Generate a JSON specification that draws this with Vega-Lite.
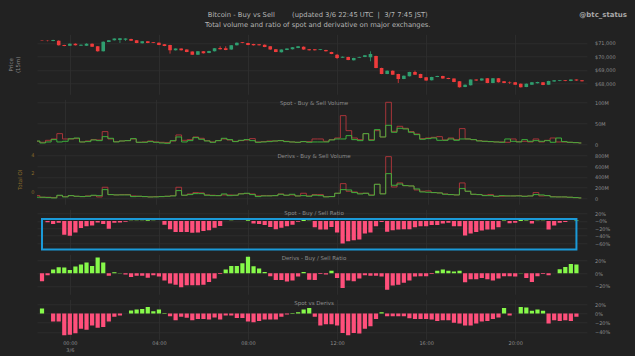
{
  "$schema": "https://vega.github.io/schema/vega-lite/v6.json",
  "background": "#222222",
  "padding": {"left": 8, "top": 10.3, "right": 8, "bottom": 4},
  "title": {
    "text": "Bitcoin - Buy vs Sell\u00a0\u00a0\u00a0\u00a0\u00a0\u00a0\u00a0\u00a0(updated 3/6 22:45 UTC\u00a0\u00a0|\u00a0\u00a03/7 7:45 JST)",
    "subtitle": "Total volume and ratio of spot and derivative on major exchanges.",
    "anchor": "middle",
    "fontSize": 6.8,
    "subtitleFontSize": 6.8,
    "color": "#b5b5b5",
    "subtitleColor": "#b5b5b5",
    "fontWeight": "normal",
    "subtitlePadding": 2.5,
    "offset": -18
  },
  "data": {"values": [
    {"t":"2024-03-05T22:45:00Z","o":71190,"h":71210,"l":71150,"c":71160,"sb":8.3,"ss":7.6,"db":25,"ds":55,"sr":0,"dr":-12.6,"sd":11},
    {"t":"2024-03-05T23:00:00Z","o":71175,"h":71200,"l":71120,"c":71140,"sb":3.6,"ss":5.2,"db":25,"ds":25,"sr":-3.6,"dr":-3,"sd":0},
    {"t":"2024-03-05T23:15:00Z","o":71150,"h":71240,"l":71130,"c":71225,"sb":6,"ss":9.9,"db":18,"ds":25,"sr":-8,"dr":5.8,"sd":-17},
    {"t":"2024-03-05T23:30:00Z","o":71175,"h":71200,"l":70810,"c":70830,"sb":11.5,"ss":13.1,"db":12,"ds":18,"sr":-5,"dr":9.5,"sd":-17},
    {"t":"2024-03-05T23:45:00Z","o":70855,"h":70870,"l":70760,"c":70780,"sb":6,"ss":25.7,"db":62,"ds":55,"sr":-37,"dr":9,"sd":-47},
    {"t":"2024-03-06T00:00:00Z","o":70805,"h":70970,"l":70790,"c":70953,"sb":7.6,"ss":13.1,"db":31,"ds":37,"sr":-40,"dr":5,"sd":-46},
    {"t":"2024-03-06T00:15:00Z","o":70953,"h":70975,"l":70810,"c":70830,"sb":13.5,"ss":13.1,"db":55,"ds":55,"sr":-31,"dr":10.5,"sd":-43},
    {"t":"2024-03-06T00:30:00Z","o":70805,"h":70900,"l":70790,"c":70879,"sb":15.4,"ss":13.9,"db":43,"ds":43,"sr":-19,"dr":13.7,"sd":-33},
    {"t":"2024-03-06T00:45:00Z","o":70805,"h":70980,"l":70780,"c":70953,"sb":6,"ss":6,"db":37,"ds":37,"sr":-14,"dr":16.8,"sd":-35},
    {"t":"2024-03-06T01:00:00Z","o":70953,"h":70970,"l":70710,"c":70731,"sb":6.8,"ss":8.3,"db":43,"ds":49,"sr":-12,"dr":11.5,"sd":-26},
    {"t":"2024-03-06T01:15:00Z","o":70756,"h":70770,"l":70360,"c":70385,"sb":10.7,"ss":11.5,"db":62,"ds":55,"sr":-4,"dr":25,"sd":-31},
    {"t":"2024-03-06T01:30:00Z","o":70385,"h":71120,"l":70370,"c":71101,"sb":9.1,"ss":10.7,"db":55,"ds":31,"sr":-8,"dr":17,"sd":-29},
    {"t":"2024-03-06T01:45:00Z","o":71077,"h":71220,"l":71060,"c":71200,"sb":18.6,"ss":30.5,"db":166,"ds":210,"sr":-21,"dr":-3.7,"sd":-17},
    {"t":"2024-03-06T02:00:00Z","o":71200,"h":71340,"l":71180,"c":71324,"sb":14.7,"ss":13.1,"db":74,"ds":74,"sr":-4.5,"dr":1.5,"sd":-7},
    {"t":"2024-03-06T02:15:00Z","o":71225,"h":71373,"l":71003,"c":71348,"sb":6,"ss":6.8,"db":68,"ds":68,"sr":-4,"dr":0.5,"sd":-4},
    {"t":"2024-03-06T02:30:00Z","o":71249,"h":71348,"l":71151,"c":71324,"sb":8.3,"ss":8.3,"db":68,"ds":74,"sr":-2,"dr":-2,"sd":0.3},
    {"t":"2024-03-06T02:45:00Z","o":71299,"h":71320,"l":71160,"c":71175,"sb":9.1,"ss":9.1,"db":68,"ds":74,"sr":0.5,"dr":-6,"sd":7},
    {"t":"2024-03-06T03:00:00Z","o":71200,"h":71215,"l":70985,"c":71003,"sb":13.9,"ss":13.1,"db":37,"ds":49,"sr":0.5,"dr":-3.7,"sd":9},
    {"t":"2024-03-06T03:15:00Z","o":70978,"h":71140,"l":70960,"c":71126,"sb":5.2,"ss":5.2,"db":43,"ds":43,"sr":0.5,"dr":-3.7,"sd":10},
    {"t":"2024-03-06T03:30:00Z","o":71126,"h":71140,"l":70985,"c":71003,"sb":5.2,"ss":6,"db":37,"ds":37,"sr":2,"dr":-7,"sd":14.5},
    {"t":"2024-03-06T03:45:00Z","o":71052,"h":71070,"l":70990,"c":71003,"sb":6.8,"ss":8.3,"db":31,"ds":31,"sr":0.5,"dr":-3,"sd":5},
    {"t":"2024-03-06T04:00:00Z","o":71027,"h":71045,"l":70840,"c":70854,"sb":5.2,"ss":6,"db":31,"ds":37,"sr":0.3,"dr":-5,"sd":9},
    {"t":"2024-03-06T04:15:00Z","o":70904,"h":70920,"l":70765,"c":70780,"sb":3.6,"ss":5.2,"db":37,"ds":37,"sr":-10,"dr":-11.5,"sd":1.5},
    {"t":"2024-03-06T04:30:00Z","o":70854,"h":70870,"l":70212,"c":70459,"sb":2.8,"ss":4.4,"db":43,"ds":43,"sr":-22,"dr":-16,"sd":-6},
    {"t":"2024-03-06T04:45:00Z","o":70459,"h":70600,"l":70440,"c":70583,"sb":9.1,"ss":8.3,"db":49,"ds":55,"sr":-30,"dr":-18,"sd":-14.5},
    {"t":"2024-03-06T05:00:00Z","o":70583,"h":70600,"l":70440,"c":70459,"sb":17.8,"ss":22.6,"db":148,"ds":210,"sr":-30,"dr":-22,"sd":-7},
    {"t":"2024-03-06T05:15:00Z","o":70509,"h":70525,"l":70320,"c":70336,"sb":6,"ss":9.9,"db":62,"ds":62,"sr":-30,"dr":-19,"sd":-9},
    {"t":"2024-03-06T05:30:00Z","o":70361,"h":70380,"l":70120,"c":70138,"sb":9.1,"ss":11.5,"db":74,"ds":86,"sr":-32,"dr":-19,"sd":-14.5},
    {"t":"2024-03-06T05:45:00Z","o":70138,"h":70400,"l":70120,"c":70385,"sb":16.2,"ss":17.8,"db":92,"ds":111,"sr":-31,"dr":-19,"sd":-11.6},
    {"t":"2024-03-06T06:00:00Z","o":70385,"h":70400,"l":70220,"c":70237,"sb":12.3,"ss":14.7,"db":92,"ds":105,"sr":-27,"dr":-18,"sd":-11.6},
    {"t":"2024-03-06T06:15:00Z","o":70262,"h":70425,"l":70245,"c":70410,"sb":8.3,"ss":9.1,"db":62,"ds":68,"sr":-25,"dr":-13.7,"sd":-13},
    {"t":"2024-03-06T06:30:00Z","o":70385,"h":70625,"l":70370,"c":70608,"sb":5.2,"ss":6,"db":55,"ds":62,"sr":-18,"dr":-8.4,"sd":-8.7},
    {"t":"2024-03-06T06:45:00Z","o":70632,"h":70756,"l":70515,"c":70534,"sb":9.1,"ss":9.1,"db":55,"ds":55,"sr":-13.5,"dr":-1,"sd":-13},
    {"t":"2024-03-06T07:00:00Z","o":70608,"h":70756,"l":70465,"c":70484,"sb":14.7,"ss":13.1,"db":86,"ds":68,"sr":0.3,"dr":5.8,"sd":-4},
    {"t":"2024-03-06T07:15:00Z","o":70509,"h":70845,"l":70490,"c":70830,"sb":11.5,"ss":10.7,"db":55,"ds":68,"sr":0.5,"dr":11.5,"sd":-4},
    {"t":"2024-03-06T07:30:00Z","o":70830,"h":71045,"l":70815,"c":71027,"sb":6.8,"ss":7.6,"db":62,"ds":62,"sr":0.3,"dr":11.5,"sd":-9.4},
    {"t":"2024-03-06T07:45:00Z","o":71052,"h":71070,"l":70985,"c":71003,"sb":9.9,"ss":9.1,"db":86,"ds":92,"sr":0.3,"dr":15.8,"sd":-9.4},
    {"t":"2024-03-06T08:00:00Z","o":71003,"h":71020,"l":70835,"c":70854,"sb":11.5,"ss":10.7,"db":99,"ds":92,"sr":2,"dr":26,"sd":-17},
    {"t":"2024-03-06T08:15:00Z","o":70929,"h":70945,"l":70810,"c":70830,"sb":9.1,"ss":13.9,"db":74,"ds":86,"sr":-7,"dr":11,"sd":-19},
    {"t":"2024-03-06T08:30:00Z","o":70904,"h":70920,"l":70810,"c":70830,"sb":5.2,"ss":6,"db":37,"ds":49,"sr":-8,"dr":7.4,"sd":-16},
    {"t":"2024-03-06T08:45:00Z","o":70879,"h":70895,"l":70690,"c":70706,"sb":6,"ss":6.8,"db":49,"ds":55,"sr":-11,"dr":2,"sd":-13},
    {"t":"2024-03-06T09:00:00Z","o":70756,"h":70770,"l":70490,"c":70509,"sb":6.8,"ss":8.3,"db":49,"ds":55,"sr":-16,"dr":-4.7,"sd":-13},
    {"t":"2024-03-06T09:15:00Z","o":70534,"h":70550,"l":70320,"c":70336,"sb":8.3,"ss":8.3,"db":55,"ds":55,"sr":-22,"dr":-10.5,"sd":-13},
    {"t":"2024-03-06T09:30:00Z","o":70311,"h":70525,"l":70295,"c":70509,"sb":9.1,"ss":9.1,"db":80,"ds":86,"sr":-18,"dr":-10.5,"sd":-7},
    {"t":"2024-03-06T09:45:00Z","o":70484,"h":70600,"l":70470,"c":70583,"sb":6.8,"ss":7.6,"db":62,"ds":62,"sr":-14,"dr":-13,"sd":-2},
    {"t":"2024-03-06T10:00:00Z","o":70534,"h":70700,"l":70520,"c":70682,"sb":6,"ss":6,"db":80,"ds":68,"sr":-10,"dr":-11.5,"sd":1.5},
    {"t":"2024-03-06T10:15:00Z","o":70632,"h":70775,"l":70615,"c":70756,"sb":5.2,"ss":5.2,"db":49,"ds":49,"sr":-2,"dr":-5,"sd":3},
    {"t":"2024-03-06T10:30:00Z","o":70731,"h":70750,"l":70490,"c":70509,"sb":6.8,"ss":6.8,"db":55,"ds":99,"sr":2.5,"dr":2,"sd":9},
    {"t":"2024-03-06T10:45:00Z","o":70534,"h":70550,"l":70440,"c":70459,"sb":5.2,"ss":6.8,"db":43,"ds":49,"sr":0.5,"dr":-10,"sd":12},
    {"t":"2024-03-06T11:00:00Z","o":70534,"h":70550,"l":70440,"c":70459,"sb":6,"ss":13.1,"db":62,"ds":74,"sr":-17,"dr":-10.5,"sd":-7},
    {"t":"2024-03-06T11:15:00Z","o":70484,"h":70550,"l":70470,"c":70534,"sb":6,"ss":13.1,"db":55,"ds":74,"sr":-23,"dr":-1,"sd":-26},
    {"t":"2024-03-06T11:30:00Z","o":70484,"h":70500,"l":70370,"c":70385,"sb":6,"ss":7.6,"db":31,"ds":37,"sr":-23,"dr":-2,"sd":-23},
    {"t":"2024-03-06T11:45:00Z","o":70336,"h":70350,"l":70170,"c":70188,"sb":10.7,"ss":11.5,"db":37,"ds":37,"sr":-16,"dr":4,"sd":-23},
    {"t":"2024-03-06T12:00:00Z","o":70138,"h":70188,"l":69817,"c":69891,"sb":13.1,"ss":15.4,"db":99,"ds":99,"sr":-31,"dr":-7.4,"sd":-26},
    {"t":"2024-03-06T12:15:00Z","o":69916,"h":70010,"l":69900,"c":69990,"sb":13.1,"ss":68.4,"db":166,"ds":277,"sr":-61,"dr":-23,"sd":-42},
    {"t":"2024-03-06T12:30:00Z","o":69966,"h":69985,"l":69725,"c":69743,"sb":21,"ss":32.8,"db":160,"ds":136,"sr":-55,"dr":-11.5,"sd":-47},
    {"t":"2024-03-06T12:45:00Z","o":69719,"h":69910,"l":69700,"c":69891,"sb":11.5,"ss":15.4,"db":111,"ds":123,"sr":-52,"dr":-12.6,"sd":-42},
    {"t":"2024-03-06T13:00:00Z","o":69916,"h":69985,"l":69900,"c":69966,"sb":9.1,"ss":11.5,"db":86,"ds":99,"sr":-50,"dr":-8.4,"sd":-43.5},
    {"t":"2024-03-06T13:15:00Z","o":69966,"h":70105,"l":69950,"c":70089,"sb":25.7,"ss":25.7,"db":99,"ds":99,"sr":-34,"dr":-3,"sd":-33},
    {"t":"2024-03-06T13:30:00Z","o":69941,"h":70385,"l":69645,"c":70188,"sb":9.9,"ss":11.5,"db":62,"ds":68,"sr":-31,"dr":-4,"sd":-27.5},
    {"t":"2024-03-06T13:45:00Z","o":70040,"h":70060,"l":69130,"c":69151,"sb":35.2,"ss":32.8,"db":265,"ds":265,"sr":-14,"dr":-4,"sd":-11.6},
    {"t":"2024-03-06T14:00:00Z","o":69151,"h":69170,"l":68690,"c":68706,"sb":17.8,"ss":17.8,"db":86,"ds":92,"sr":-3,"dr":-5,"sd":3},
    {"t":"2024-03-06T14:15:00Z","o":68706,"h":68970,"l":68690,"c":68953,"sb":45.5,"ss":100,"db":462,"ds":777,"sr":-29,"dr":-26,"sd":-6},
    {"t":"2024-03-06T14:30:00Z","o":68953,"h":68970,"l":68640,"c":68657,"sb":28.9,"ss":31.2,"db":247,"ds":215,"sr":-25,"dr":-19.4,"sd":-6},
    {"t":"2024-03-06T14:45:00Z","o":68706,"h":68720,"l":68040,"c":68336,"sb":38.4,"ss":43.1,"db":270,"ds":290,"sr":-23,"dr":-18,"sd":-6},
    {"t":"2024-03-06T15:00:00Z","o":68336,"h":68600,"l":68320,"c":68583,"sb":36.8,"ss":38.4,"db":240,"ds":240,"sr":-22,"dr":-15,"sd":-6},
    {"t":"2024-03-06T15:15:00Z","o":68534,"h":68870,"l":68520,"c":68855,"sb":28.9,"ss":30.5,"db":234,"ds":234,"sr":-22,"dr":-11.5,"sd":-10},
    {"t":"2024-03-06T15:30:00Z","o":68855,"h":68953,"l":68640,"c":68657,"sb":23.4,"ss":24.9,"db":179,"ds":160,"sr":-17,"dr":-5,"sd":-11.6},
    {"t":"2024-03-06T15:45:00Z","o":68706,"h":68720,"l":68390,"c":68410,"sb":12.3,"ss":13.9,"db":123,"ds":136,"sr":-14,"dr":-4.7,"sd":-11.6},
    {"t":"2024-03-06T16:00:00Z","o":68460,"h":68475,"l":68195,"c":68213,"sb":13.9,"ss":15.4,"db":117,"ds":142,"sr":-14,"dr":-4.7,"sd":-11.6},
    {"t":"2024-03-06T16:15:00Z","o":68237,"h":68500,"l":68220,"c":68484,"sb":15.4,"ss":17,"db":111,"ds":111,"sr":-11,"dr":-1,"sd":-13},
    {"t":"2024-03-06T16:30:00Z","o":68484,"h":68575,"l":68470,"c":68558,"sb":9.9,"ss":18.6,"db":105,"ds":105,"sr":-11,"dr":4,"sd":-16},
    {"t":"2024-03-06T16:45:00Z","o":68558,"h":68575,"l":68345,"c":68361,"sb":9.9,"ss":10.7,"db":80,"ds":86,"sr":-7,"dr":5.8,"sd":-14.5},
    {"t":"2024-03-06T17:00:00Z","o":68410,"h":68425,"l":68320,"c":68336,"sb":13.1,"ss":15.4,"db":74,"ds":74,"sr":-5,"dr":4,"sd":-14.5},
    {"t":"2024-03-06T17:15:00Z","o":68361,"h":68380,"l":68095,"c":68114,"sb":9.9,"ss":11.5,"db":68,"ds":68,"sr":-14,"dr":3,"sd":-20},
    {"t":"2024-03-06T17:30:00Z","o":68163,"h":68180,"l":67700,"c":67719,"sb":13.1,"ss":37.6,"db":185,"ds":290,"sr":-14,"dr":4,"sd":-21.8},
    {"t":"2024-03-06T17:45:00Z","o":67744,"h":67935,"l":67725,"c":67916,"sb":13.1,"ss":13.1,"db":136,"ds":136,"sr":-39,"dr":-14,"sd":-26},
    {"t":"2024-03-06T18:00:00Z","o":67867,"h":68305,"l":67850,"c":68287,"sb":11.5,"ss":11.5,"db":80,"ds":80,"sr":-34,"dr":-9.5,"sd":-26},
    {"t":"2024-03-06T18:15:00Z","o":68287,"h":68305,"l":68195,"c":68213,"sb":8.3,"ss":9.1,"db":74,"ds":74,"sr":-30,"dr":-9.5,"sd":-21.8},
    {"t":"2024-03-06T18:30:00Z","o":68213,"h":68380,"l":68195,"c":68361,"sb":7.6,"ss":7.6,"db":55,"ds":62,"sr":-26,"dr":-7.4,"sd":-17},
    {"t":"2024-03-06T18:45:00Z","o":68386,"h":68405,"l":68020,"c":68040,"sb":6.8,"ss":6.8,"db":55,"ds":74,"sr":-23,"dr":-9.5,"sd":-16},
    {"t":"2024-03-06T19:00:00Z","o":68040,"h":68405,"l":68020,"c":68386,"sb":6,"ss":6,"db":43,"ds":43,"sr":-23,"dr":-11.5,"sd":-11.6},
    {"t":"2024-03-06T19:15:00Z","o":68386,"h":68405,"l":68070,"c":68089,"sb":5.2,"ss":6,"db":55,"ds":43,"sr":-17,"dr":-8.4,"sd":-8.7},
    {"t":"2024-03-06T19:30:00Z","o":68163,"h":68180,"l":68020,"c":68040,"sb":13.1,"ss":5.2,"db":49,"ds":49,"sr":1.5,"dr":-4.7,"sd":12},
    {"t":"2024-03-06T19:45:00Z","o":68114,"h":68150,"l":67966,"c":68065,"sb":7.6,"ss":13.1,"db":49,"ds":49,"sr":-6,"dr":-4.7,"sd":-4},
    {"t":"2024-03-06T20:00:00Z","o":68089,"h":68105,"l":67900,"c":67916,"sb":6,"ss":6.8,"db":49,"ds":55,"sr":-5,"dr":-5,"sd":0},
    {"t":"2024-03-06T20:15:00Z","o":67990,"h":68005,"l":67700,"c":67719,"sb":11.5,"ss":7.6,"db":43,"ds":43,"sr":6,"dr":0.5,"sd":14.5},
    {"t":"2024-03-06T20:30:00Z","o":67744,"h":68005,"l":67725,"c":67990,"sb":7.6,"ss":6,"db":49,"ds":49,"sr":1,"dr":-7.4,"sd":13},
    {"t":"2024-03-06T20:45:00Z","o":67916,"h":68105,"l":67900,"c":68089,"sb":9.1,"ss":13.1,"db":74,"ds":111,"sr":-7,"dr":-13.7,"sd":6},
    {"t":"2024-03-06T21:00:00Z","o":68015,"h":68130,"l":68000,"c":68114,"sb":7.6,"ss":6,"db":68,"ds":49,"sr":0.5,"dr":-4.7,"sd":9},
    {"t":"2024-03-06T21:15:00Z","o":68089,"h":68105,"l":67875,"c":67892,"sb":9.1,"ss":9.9,"db":55,"ds":55,"sr":0.5,"dr":-1,"sd":6},
    {"t":"2024-03-06T21:30:00Z","o":67916,"h":68205,"l":67900,"c":68188,"sb":5.2,"ss":15.4,"db":31,"ds":37,"sr":-23,"dr":-3,"sd":-21.8},
    {"t":"2024-03-06T21:45:00Z","o":68139,"h":68255,"l":68120,"c":68237,"sb":15.4,"ss":6,"db":31,"ds":31,"sr":-12,"dr":0,"sd":-14.5},
    {"t":"2024-03-06T22:00:00Z","o":68188,"h":68255,"l":68170,"c":68237,"sb":6.8,"ss":6,"db":31,"ds":31,"sr":-5,"dr":6.3,"sd":-16},
    {"t":"2024-03-06T22:15:00Z","o":68237,"h":68255,"l":68170,"c":68188,"sb":5.2,"ss":5.2,"db":25,"ds":25,"sr":-3,"dr":10,"sd":-14.5},
    {"t":"2024-03-06T22:30:00Z","o":68188,"h":68305,"l":68170,"c":68287,"sb":4.4,"ss":4.4,"db":18,"ds":18,"sr":0,"dr":14.7,"sd":-16},
    {"t":"2024-03-06T22:45:00Z","o":68287,"h":68305,"l":68195,"c":68213,"sb":3.6,"ss":3.6,"db":12,"ds":12,"sr":1.5,"dr":13.7,"sd":-7},
    {"t":"2024-03-06T23:00:00Z","o":68237,"h":68255,"l":68145,"c":68163}
  ]},
  "vconcat": [
    {
      "width": 550, "height": 60,
      "title": {"text": "@btc_status", "anchor": "end", "frame": "group", "dx": 40, "offset": 12.7, "fontSize": 7, "fontWeight": "bold", "color": "#a8a8a8", "baseline": "middle"},
      "encoding": {"x": {"field": "t", "type": "temporal", "scale": {"type": "utc", "domain": [{"year":2024,"month":3,"date":5,"hours":22,"minutes":45,"utc":true},{"year":2024,"month":3,"date":6,"hours":23,"minutes":0,"utc":true}]}, "axis": {"values": [{"year":2024,"month":3,"date":6,"hours":0,"utc":true},{"year":2024,"month":3,"date":6,"hours":4,"utc":true},{"year":2024,"month":3,"date":6,"hours":8,"utc":true},{"year":2024,"month":3,"date":6,"hours":12,"utc":true},{"year":2024,"month":3,"date":6,"hours":16,"utc":true},{"year":2024,"month":3,"date":6,"hours":20,"utc":true}], "labels": false, "title": null, "grid": true}}},
      "layer": [
        {"mark": {"type": "rule", "clip": true, "strokeWidth": 0.8},
         "encoding": {
           "y": {"field": "l", "type": "quantitative", "scale": {"domain": [67200, 71644], "nice": false, "zero": false}, "axis": {"orient": "right", "values": [68000, 69000, 70000, 71000], "format": "$,d", "grid": true, "title": null, "labelPadding": 7.5, "labelOverlap": false}},
           "y2": {"field": "h"},
           "color": {"condition": {"test": "datum.c >= datum.o", "value": "#2f9e6f"}, "value": "#ee3b3b"}}},
        {"mark": {"type": "bar", "clip": true, "width": 3.6},
         "encoding": {
           "y": {"field": "o", "type": "quantitative", "axis": {"orient": "left", "labels": false, "grid": false, "title": ["Price", "(15m)"], "titlePadding": 16}},
           "y2": {"field": "c"},
           "color": {"condition": {"test": "datum.c >= datum.o", "value": "#2f9e6f"}, "value": "#ee3b3b"}}}
      ],
      "resolve": {"axis": {"y": "independent"}}
    },
    {
      "width": 550, "height": 50,
      "title": {"text": "Spot - Buy & Sell Volume", "offset": -9, "baseline": "middle", "dx": 2},
      "encoding": {"x": {"field": "t", "type": "temporal", "scale": {"type": "utc", "domain": [{"year":2024,"month":3,"date":5,"hours":22,"minutes":45,"utc":true},{"year":2024,"month":3,"date":6,"hours":23,"minutes":0,"utc":true}]}, "axis": {"values": [{"year":2024,"month":3,"date":6,"hours":0,"utc":true},{"year":2024,"month":3,"date":6,"hours":4,"utc":true},{"year":2024,"month":3,"date":6,"hours":8,"utc":true},{"year":2024,"month":3,"date":6,"hours":12,"utc":true},{"year":2024,"month":3,"date":6,"hours":16,"utc":true},{"year":2024,"month":3,"date":6,"hours":20,"utc":true}], "labels": false, "title": null, "grid": true}}},
      "layer": [
        {"mark": {"type": "line", "interpolate": "step", "clip": true, "strokeWidth": 0.9, "color": "#b5373c"},
         "encoding": {"y": {"field": "ss", "type": "quantitative", "scale": {"domain": [-11.4, 107.1], "nice": false, "zero": false}, "axis": {"orient": "right", "values": [0, 50, 100], "labelExpr": "datum.value == 0 ? '0' : datum.value + 'M'", "grid": true, "title": null, "labelPadding": 7.5, "labelOverlap": false}}}},
        {"mark": {"type": "line", "interpolate": "step", "clip": true, "strokeWidth": 0.9, "color": "#3dbd3d"},
         "encoding": {"y": {"field": "sb", "type": "quantitative", "axis": {"orient": "right", "values": [0, 50, 100], "labelExpr": "datum.value == 0 ? '0' : datum.value + 'M'", "grid": true, "title": null, "labelPadding": 7.5, "labelOverlap": false}}}}
      ]
    },
    {
      "width": 550, "height": 50,
      "title": {"text": "Derivs - Buy & Sell Volume", "offset": -9, "baseline": "middle", "dx": 2},
      "encoding": {"x": {"field": "t", "type": "temporal", "scale": {"type": "utc", "domain": [{"year":2024,"month":3,"date":5,"hours":22,"minutes":45,"utc":true},{"year":2024,"month":3,"date":6,"hours":23,"minutes":0,"utc":true}]}, "axis": {"values": [{"year":2024,"month":3,"date":6,"hours":0,"utc":true},{"year":2024,"month":3,"date":6,"hours":4,"utc":true},{"year":2024,"month":3,"date":6,"hours":8,"utc":true},{"year":2024,"month":3,"date":6,"hours":12,"utc":true},{"year":2024,"month":3,"date":6,"hours":16,"utc":true},{"year":2024,"month":3,"date":6,"hours":20,"utc":true}], "labels": false, "title": null, "grid": true}}},
      "layer": [
        {"layer": [
          {"mark": {"type": "line", "interpolate": "step", "clip": true, "strokeWidth": 0.9, "color": "#b5373c"},
           "encoding": {"y": {"field": "ds", "type": "quantitative", "scale": {"domain": [-105.6, 820.4], "nice": false, "zero": false}, "axis": {"orient": "right", "values": [0, 200, 400, 600, 800], "labelExpr": "datum.value == 0 ? '0' : datum.value + 'M'", "grid": true, "title": null, "labelPadding": 7.5, "labelOverlap": false}}}},
          {"mark": {"type": "line", "interpolate": "step", "clip": true, "strokeWidth": 0.9, "color": "#3dbd3d"},
           "encoding": {"y": {"field": "db", "type": "quantitative", "axis": {"orient": "right", "values": [0, 200, 400, 600, 800], "labelExpr": "datum.value == 0 ? '0' : datum.value + 'M'", "grid": true, "title": null, "labelPadding": 7.5, "labelOverlap": false}}}}
        ]},
        {"data": {"values": [{"oi": 0}]},
         "mark": {"type": "point", "opacity": 0},
         "encoding": {"y": {"field": "oi", "type": "quantitative", "scale": {"domain": [-1.42, 4.03], "nice": false, "zero": false}, "axis": {"orient": "left", "values": [0, 2, 4], "grid": false, "title": "Total OI", "labelColor": "#86692a", "titleColor": "#86692a", "labelPadding": 3, "titlePadding": 8, "labelOverlap": false}}}}
      ],
      "resolve": {"scale": {"y": "independent"}}
    },
    {
      "width": 550, "height": 40,
      "title": {"text": "Spot - Buy / Sell Ratio", "offset": -9, "baseline": "middle", "dx": 2},
      "encoding": {"x": {"field": "t", "type": "temporal", "scale": {"type": "utc", "domain": [{"year":2024,"month":3,"date":5,"hours":22,"minutes":45,"utc":true},{"year":2024,"month":3,"date":6,"hours":23,"minutes":0,"utc":true}]}, "axis": {"values": [{"year":2024,"month":3,"date":6,"hours":0,"utc":true},{"year":2024,"month":3,"date":6,"hours":4,"utc":true},{"year":2024,"month":3,"date":6,"hours":8,"utc":true},{"year":2024,"month":3,"date":6,"hours":12,"utc":true},{"year":2024,"month":3,"date":6,"hours":16,"utc":true},{"year":2024,"month":3,"date":6,"hours":20,"utc":true}], "labels": false, "title": null, "grid": true}}},
      "layer": [
        {"mark": {"type": "bar", "clip": true, "width": 4.2},
         "encoding": {
           "y": {"field": "sr", "type": "quantitative", "scale": {"domain": [-76.5, 31.6], "nice": false, "zero": false}, "axis": {"orient": "right", "values": [20, 0, -20, -40, -60], "labelExpr": "datum.value == 0 ? '−0%' : format(datum.value, 'd') + '%'", "grid": true, "title": null, "labelPadding": 7.5, "labelOverlap": false}},
           "y2": {"datum": 0},
           "color": {"condition": {"test": "datum.sr >= 0", "value": "#86f94a"}, "value": "#ff4f7b"}}},
        {"data": {"values": [{"t1": "2024-03-05T22:45:00Z", "t2": "2024-03-06T22:45:00Z", "top": 5.4, "bottom": -77.3}]},
         "mark": {"type": "rect", "filled": false, "stroke": "#1b9ad8", "strokeWidth": 2, "clip": false},
         "encoding": {
           "x": {"field": "t1", "type": "temporal", "axis": {"values": [{"year":2024,"month":3,"date":6,"hours":0,"utc":true},{"year":2024,"month":3,"date":6,"hours":4,"utc":true},{"year":2024,"month":3,"date":6,"hours":8,"utc":true},{"year":2024,"month":3,"date":6,"hours":12,"utc":true},{"year":2024,"month":3,"date":6,"hours":16,"utc":true},{"year":2024,"month":3,"date":6,"hours":20,"utc":true}], "labels": false, "title": null, "grid": true}},
           "x2": {"field": "t2"},
           "y": {"field": "top", "type": "quantitative", "axis": {"orient": "right", "values": [20, 0, -20, -40, -60], "labelExpr": "datum.value == 0 ? '−0%' : format(datum.value, 'd') + '%'", "grid": true, "title": null, "labelPadding": 7.5, "labelOverlap": false}},
           "y2": {"field": "bottom"}}}
      ]
    },
    {
      "width": 550, "height": 40,
      "title": {"text": "Derivs - Buy / Sell Ratio", "offset": -9, "baseline": "middle", "dx": 2},
      "mark": {"type": "bar", "clip": true, "width": 4.2},
      "encoding": {
        "x": {"field": "t", "type": "temporal", "scale": {"type": "utc", "domain": [{"year":2024,"month":3,"date":5,"hours":22,"minutes":45,"utc":true},{"year":2024,"month":3,"date":6,"hours":23,"minutes":0,"utc":true}]}, "axis": {"values": [{"year":2024,"month":3,"date":6,"hours":0,"utc":true},{"year":2024,"month":3,"date":6,"hours":4,"utc":true},{"year":2024,"month":3,"date":6,"hours":8,"utc":true},{"year":2024,"month":3,"date":6,"hours":12,"utc":true},{"year":2024,"month":3,"date":6,"hours":16,"utc":true},{"year":2024,"month":3,"date":6,"hours":20,"utc":true}], "labels": false, "title": null, "grid": true}},
        "y": {"field": "dr", "type": "quantitative", "scale": {"domain": [-33.1, 29.9], "nice": false, "zero": false}, "axis": {"orient": "right", "values": [20, 0, -20], "labelExpr": "format(datum.value, 'd') + '%'", "grid": true, "title": null, "labelPadding": 7.5, "labelOverlap": false}},
        "y2": {"datum": 0},
        "color": {"condition": {"test": "datum.dr >= 0", "value": "#86f94a"}, "value": "#ff4f7b"}}
    },
    {
      "width": 550, "height": 40,
      "title": {"text": "Spot vs Derivs", "offset": -9, "baseline": "middle", "dx": 2},
      "mark": {"type": "bar", "clip": true, "width": 4.2},
      "encoding": {
        "x": {"field": "t", "type": "temporal", "scale": {"type": "utc", "domain": [{"year":2024,"month":3,"date":5,"hours":22,"minutes":45,"utc":true},{"year":2024,"month":3,"date":6,"hours":23,"minutes":0,"utc":true}]}, "axis": {"values": [{"year":2024,"month":3,"date":6,"hours":0,"utc":true},{"year":2024,"month":3,"date":6,"hours":4,"utc":true},{"year":2024,"month":3,"date":6,"hours":8,"utc":true},{"year":2024,"month":3,"date":6,"hours":12,"utc":true},{"year":2024,"month":3,"date":6,"hours":16,"utc":true},{"year":2024,"month":3,"date":6,"hours":20,"utc":true}], "title": null, "grid": true, "labelPadding": 1.5, "labelLineHeight": 6.5, "labelExpr": "utchours(datum.value) == 0 ? [utcFormat(datum.value, '%H:%M'), utcFormat(datum.value, '%-m/%-d')] : utcFormat(datum.value, '%H:%M')"}},
        "y": {"field": "sd", "type": "quantitative", "scale": {"domain": [-55.9, 31.1], "nice": false, "zero": false}, "axis": {"orient": "right", "values": [20, 0, -20, -40], "labelExpr": "format(datum.value, 'd') + '%'", "grid": true, "title": null, "labelPadding": 7.5, "labelOverlap": false}},
        "y2": {"datum": 0},
        "color": {"condition": {"test": "datum.sd >= 0", "value": "#86f94a"}, "value": "#ff4f7b"}}
    }
  ],
  "spacing": 5,
  "bounds": "flush",
  "config": {
    "font": "DejaVu Sans",
    "view": {"stroke": null},
    "axis": {"labelFontSize": 5, "labelColor": "#8c8c8c", "gridColor": "#303030", "gridWidth": 0.8, "ticks": false, "domain": false, "labelOverlap": false, "titleFontSize": 5.5, "titleFontWeight": "normal", "titleColor": "#8c8c8c", "labelFont": "DejaVu Sans", "titleFont": "DejaVu Sans"},
    "title": {"fontSize": 5.5, "color": "#8c8c8c", "fontWeight": "normal", "font": "DejaVu Sans", "subtitleFont": "DejaVu Sans"}
  }
}
